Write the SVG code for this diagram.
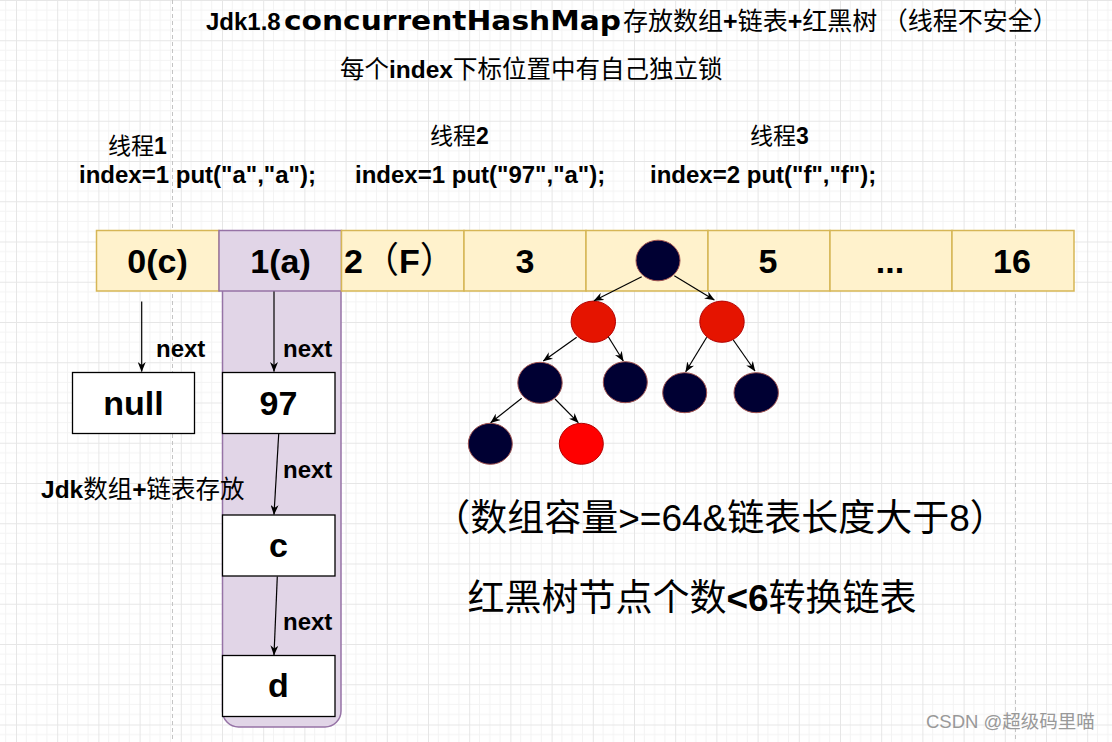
<svg xmlns="http://www.w3.org/2000/svg" width="1112" height="742" viewBox="0 0 1112 742">
<defs>
<pattern id="grid" x="16" y="0" width="41.2" height="40.25" patternUnits="userSpaceOnUse">
<path d="M10.3 0V40.25M20.6 0V40.25M30.9 0V40.25M0 10.06H41.2M0 20.12H41.2M0 30.19H41.2" fill="none" stroke="#f3f3f3" stroke-width="1"/>
<path d="M0 0V40.25M0 0H41.2" fill="none" stroke="#e6e6e6" stroke-width="2"/>
</pattern>
<marker id="arr" viewBox="0 0 10 8" markerWidth="10" markerHeight="8" refX="9.5" refY="4" orient="auto" markerUnits="userSpaceOnUse">
<path d="M0,0 L10,4 L0,8 L3,4 Z" fill="#000"/>
</marker>
<style>
.cell{fill:#fff2cc;stroke:#d6b656;stroke-width:1.5}
.cellp{fill:#e1d5e7;stroke:#9673a6;stroke-width:1.5}
.box{fill:#fff;stroke:#000;stroke-width:1.3}
.blk{fill:#000033;stroke:#a0524f;stroke-width:1}
.red{fill:#e51400;stroke:#b20000;stroke-width:1}
.red2{fill:#ff0000;stroke:#b20000;stroke-width:1}
.big{font-family:"Liberation Sans","Noto Sans CJK SC",Arial,sans-serif;font-weight:bold;font-size:34px;text-anchor:middle;fill:#000}
.cn{font-family:"Noto Sans CJK SC",sans-serif;font-weight:normal}
.b{font-family:"Liberation Sans","Noto Sans CJK SC",Arial,sans-serif;font-weight:bold}
.lbl{font-family:"Liberation Sans",Arial,sans-serif;font-weight:bold;font-size:24px;fill:#000}
.edge{stroke:#000;stroke-width:1.2;fill:none;marker-end:url(#arr)}
.page{stroke:#c4c4c4;stroke-width:1;stroke-dasharray:4 3;fill:none}
</style>
</defs>
<rect width="1112" height="742" fill="#fff"/>
<rect width="1112" height="742" fill="url(#grid)"/>
<path class="page" d="M172.5 0V742M1015.5 0V742"/>

<g id="bucket1-container">
<rect x="222.5" y="250" width="118.5" height="477" rx="16" ry="16" class="cellp"/>
</g>

<g id="array">
<g id="cell0"><rect class="cell" x="96.5" y="230.5" width="122.5" height="60.5"/><text class="big" x="157.5" y="272.5">0(c)</text></g>
<g id="cell1"><rect class="cellp" x="219" y="230.5" width="122.5" height="60.5"/><text class="big" x="280.5" y="272.5">1(a)</text></g>
<g id="cell2"><rect class="cell" x="341.5" y="230.5" width="122.5" height="60.5"/><text class="big" x="344" y="272.5" style="text-anchor:start">2<tspan font-weight="normal" font-size="36">（</tspan>F<tspan font-weight="normal" font-size="36">）</tspan></text></g>
<g id="cell3"><rect class="cell" x="464" y="230.5" width="122" height="60.5"/><text class="big" x="525" y="272.5">3</text></g>
<g id="cell4"><rect class="cell" x="586" y="230.5" width="122" height="60.5"/></g>
<g id="cell5"><rect class="cell" x="708" y="230.5" width="122" height="60.5"/><text class="big" x="768" y="272.5">5</text></g>
<g id="cell6"><rect class="cell" x="830" y="230.5" width="122" height="60.5"/><text class="big" x="890" y="272.5">...</text></g>
<g id="cell16"><rect class="cell" x="952" y="230.5" width="122" height="60.5"/><text class="big" x="1012" y="272.5">16</text></g>
</g>

<g id="tree-root"><ellipse class="blk" cx="658" cy="260.5" rx="22" ry="20.3"/></g>
<g id="tree-l"><ellipse class="red" cx="593.3" cy="321.7" rx="22.2" ry="20.6"/></g>
<g id="tree-r"><ellipse class="red" cx="722" cy="321.7" rx="22.2" ry="20.6"/></g>
<g id="tree-ll"><ellipse class="blk" cx="540" cy="382.8" rx="22.2" ry="20.5"/></g>
<g id="tree-lr"><ellipse class="blk" cx="625.3" cy="382.2" rx="22" ry="20.5"/></g>
<g id="tree-rl"><ellipse class="blk" cx="684.7" cy="392.7" rx="22" ry="20"/></g>
<g id="tree-rr"><ellipse class="blk" cx="756.2" cy="392.7" rx="22.2" ry="20"/></g>
<g id="tree-lll"><ellipse class="blk" cx="490.3" cy="443.8" rx="22" ry="20.5"/></g>
<g id="tree-llr"><ellipse class="red2" cx="581.3" cy="443.8" rx="22" ry="20.5"/></g>

<g id="node-null"><rect class="box" x="72.5" y="372.5" width="122" height="61"/><text class="big" x="133.5" y="415">null</text></g>
<g id="node-97"><rect class="box" x="222.5" y="372.5" width="112.5" height="61"/><text class="big" x="278.5" y="415">97</text></g>
<g id="node-c"><rect class="box" x="222.5" y="515" width="112.5" height="61"/><text class="big" x="278.5" y="556.5">c</text></g>
<g id="node-d"><rect class="box" x="222.5" y="655.5" width="112.5" height="61"/><text class="big" x="278.5" y="697">d</text></g>

<g id="connectors">
<line class="edge" x1="141.7" y1="301.5" x2="141.7" y2="371.5"/>
<line class="edge" x1="274" y1="291.5" x2="274" y2="371.5"/>
<line class="edge" x1="278.7" y1="434" x2="274" y2="514.5"/>
<line class="edge" x1="277.3" y1="576.5" x2="274" y2="655"/>
<line class="edge" x1="641.7" y1="276.7" x2="594" y2="300.7"/>
<line class="edge" x1="674.3" y1="275.7" x2="714.3" y2="300"/>
<line class="edge" x1="576.7" y1="337.3" x2="543.3" y2="361"/>
<line class="edge" x1="608.3" y1="336.7" x2="623.3" y2="361"/>
<line class="edge" x1="706.7" y1="337.3" x2="685.7" y2="371.7"/>
<line class="edge" x1="733.3" y1="340" x2="755" y2="371"/>
<line class="edge" x1="521.7" y1="398.3" x2="490.7" y2="422.7"/>
<line class="edge" x1="555" y1="399" x2="578.3" y2="422.7"/>
<text class="lbl" x="156" y="357">next</text>
<text class="lbl" x="283" y="357">next</text>
<text class="lbl" x="283" y="478">next</text>
<text class="lbl" x="283" y="630">next</text>
</g>

<g id="title">
<text x="206" y="29.5" class="b" font-size="24">Jdk1.8</text>
<text x="284" y="29.5" font-family="DejaVu Sans, sans-serif" font-weight="bold" font-size="26" textLength="337" lengthAdjust="spacingAndGlyphs">concurrentHashMap</text>
<text x="623" y="29.5" font-size="25"><tspan class="cn">存放数组</tspan><tspan class="b">+</tspan><tspan class="cn">链表</tspan><tspan class="b">+</tspan><tspan class="cn">红黑树 （线程不安全）</tspan></text>
</g>
<g id="subtitle">
<text x="340" y="78" font-size="24.5"><tspan class="cn">每个</tspan><tspan class="b">index</tspan><tspan class="cn">下标位置中有自己独立锁</tspan></text>
</g>

<g id="thread1">
<text x="108" y="153.5" font-size="23"><tspan class="cn">线程</tspan><tspan class="b">1</tspan></text>
<text x="79" y="182.5" class="lbl">index=1 put("a","a");</text>
</g>
<g id="thread2">
<text x="430" y="143.5" font-size="23"><tspan class="cn">线程</tspan><tspan class="b">2</tspan></text>
<text x="355" y="182.5" class="lbl">index=1 put("97","a");</text>
</g>
<g id="thread3">
<text x="750" y="143.5" font-size="23"><tspan class="cn">线程</tspan><tspan class="b">3</tspan></text>
<text x="650" y="182.5" class="lbl">index=2 put("f","f");</text>
</g>

<g id="note-jdk">
<text x="41" y="498" font-size="24.5"><tspan class="b">Jdk</tspan><tspan class="cn">数组</tspan><tspan class="b">+</tspan><tspan class="cn">链表存放</tspan></text>
</g>

<g id="note-threshold">
<text x="720" y="531" font-size="37" text-anchor="middle" font-family="Liberation Sans, Noto Sans CJK SC, sans-serif">（数组容量&gt;=64&amp;链表长度大于8）</text>
</g>
<g id="note-untreeify">
<text x="692" y="611" font-size="37" text-anchor="middle"><tspan class="cn">红黑树节点个数</tspan><tspan class="b">&lt;6</tspan><tspan class="cn">转换链表</tspan></text>
</g>

<text x="926" y="728" font-size="18.5" fill="#999" font-family="Liberation Sans, Noto Sans CJK SC, sans-serif">CSDN @超级码里喵</text>
</svg>
